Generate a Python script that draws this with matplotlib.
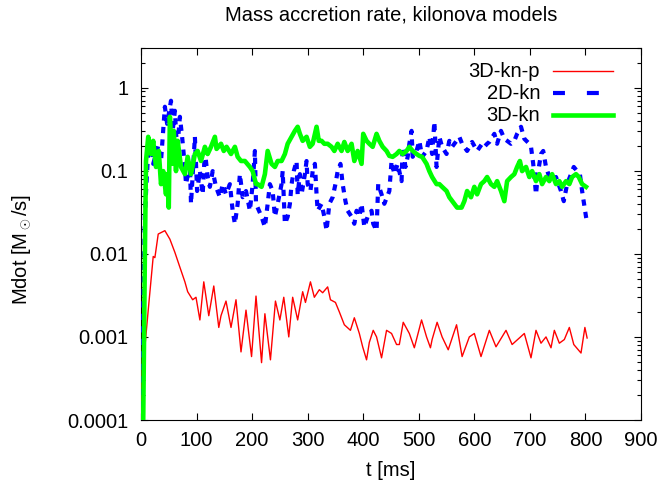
import matplotlib
matplotlib.use("Agg")
import matplotlib.pyplot as plt
from matplotlib.ticker import FixedLocator, LogLocator, NullFormatter, FuncFormatter

plt.rcParams['font.family'] = ['Liberation Sans', 'DejaVu Sans']
plt.rcParams['mathtext.fontset'] = 'custom'
plt.rcParams['mathtext.rm'] = 'Liberation Sans'
plt.rcParams['mathtext.it'] = 'Liberation Sans:italic'
plt.rcParams['lines.scale_dashes'] = False

# --- data ---
labels = ["3D-kn-p", "2D-kn", "3D-kn"]

t_kn_p = [0, 2, 4, 7, 13, 22, 25, 31, 43, 52, 61, 70, 79, 84, 93, 99, 106, 113,
          122, 131, 140, 144, 153, 162, 171, 180, 189, 199, 207, 217, 223, 233,
          242, 250, 257, 266, 273, 282, 291, 296, 305, 312, 321, 327, 336, 341,
          350, 357, 366, 377, 384, 393, 399, 406, 411, 418, 424, 433, 442, 451,
          460, 465, 472, 483, 492, 505, 514, 521, 524, 533, 542, 553, 568, 578,
          591, 600, 612, 627, 639, 657, 668, 681, 690, 702, 711, 720, 729, 738,
          744, 753, 762, 771, 779, 792, 799, 803]
mdot_kn_p = [5e-5, 3.3e-4, 1.4e-3, 7.6e-4, 2.1e-3, 9.3e-3, 9.0e-3, 0.0173, 0.019,
             0.015, 0.0104, 0.0069, 0.0046, 0.0035, 0.0028, 0.0030, 0.0016, 0.0046,
             0.0018, 0.0041, 0.0013, 0.0018, 0.0027, 0.0013, 0.0028, 6.6e-4, 0.0021,
             5.8e-4, 0.0031, 4.9e-4, 0.0019, 5.3e-4, 0.0027, 0.0016, 0.0030, 0.0010,
             0.0030, 0.0016, 0.0035, 0.0026, 0.0046, 0.0030, 0.0037, 0.0034, 0.0040,
             0.0028, 0.0026, 0.0020, 0.0014, 0.0012, 0.0017, 0.0011, 7.6e-4, 5.3e-4,
             8.6e-4, 0.0012, 0.0010, 5.6e-4, 0.0012, 0.0011, 8.1e-4, 8.1e-4, 0.0015,
             0.0011, 7.4e-4, 0.0016, 0.0010, 7.4e-4, 9.3e-4, 0.0015, 0.0010, 7.0e-4,
             0.0014, 5.8e-4, 0.0010, 0.0011, 5.8e-4, 0.0012, 7.6e-4, 0.0012, 8.1e-4,
             9.7e-4, 0.0011, 5.6e-4, 0.0012, 8.4e-4, 0.0010, 7.4e-4, 0.0012, 8.4e-4,
             9.3e-4, 0.0013, 8.1e-4, 6.4e-4, 0.0013, 9.7e-4]

t_2d = [0, 4, 7, 13, 18, 22, 31, 36, 43, 47, 54, 57, 61, 65, 70, 74, 79, 81, 88,
        90, 97, 101, 106, 111, 115, 120, 124, 129, 135, 142, 147, 153, 160, 165,
        169, 174, 178, 183, 189, 196, 201, 205, 207, 210, 217, 223, 228, 232, 237,
        241, 246, 253, 255, 259, 264, 268, 271, 275, 280, 282, 286, 289, 295, 298,
        300, 305, 309, 313, 316, 318, 325, 330, 334, 339, 345, 350, 354, 359, 363,
        368, 372, 379, 384, 388, 393, 397, 402, 408, 415, 418, 424, 427, 433, 438,
        447, 451, 456, 462, 469, 471, 476, 480, 483, 487, 489, 496, 501, 506, 514,
        519, 524, 528, 532, 537, 542, 550, 555, 560, 568, 573, 578, 587, 596, 605,
        614, 618, 623, 627, 636, 641, 648, 654, 659, 666, 672, 677, 684, 690, 699,
        702, 706, 711, 715, 720, 724, 729, 735, 740, 747, 756, 761, 767, 774, 779,
        785, 790, 794, 801, 803]
mdot_2d = [5e-5, 0.002, 0.03, 0.173, 0.222, 0.121, 0.199, 0.131, 0.589, 0.367,
           0.696, 0.302, 0.527, 0.173, 0.446, 0.256, 0.111, 0.069, 0.121, 0.040,
           0.256, 0.057, 0.099, 0.052, 0.173, 0.084, 0.064, 0.099, 0.064, 0.048,
           0.069, 0.052, 0.069, 0.033, 0.023, 0.040, 0.091, 0.048, 0.057, 0.033,
           0.069, 0.173, 0.040, 0.036, 0.028, 0.021, 0.040, 0.069, 0.057, 0.028,
           0.040, 0.069, 0.099, 0.023, 0.028, 0.040, 0.069, 0.099, 0.131, 0.052,
           0.091, 0.052, 0.091, 0.131, 0.069, 0.057, 0.099, 0.121, 0.052, 0.033,
           0.040, 0.028, 0.019, 0.040, 0.048, 0.069, 0.099, 0.121, 0.069, 0.043,
           0.033, 0.028, 0.023, 0.033, 0.028, 0.040, 0.021, 0.028, 0.033, 0.023,
           0.019, 0.069, 0.052, 0.040, 0.057, 0.131, 0.091, 0.121, 0.075, 0.194,
           0.111, 0.147, 0.211, 0.302, 0.147, 0.173, 0.229, 0.147, 0.173, 0.256,
           0.159, 0.388, 0.111, 0.256, 0.194, 0.159, 0.229, 0.194, 0.229, 0.256,
           0.211, 0.173, 0.222, 0.173, 0.211, 0.194, 0.211, 0.222, 0.278, 0.211,
           0.302, 0.242, 0.229, 0.211, 0.229, 0.278, 0.338, 0.242, 0.211, 0.194,
           0.121, 0.052, 0.099, 0.159, 0.173, 0.111, 0.084, 0.075, 0.084, 0.057,
           0.043, 0.069, 0.091, 0.111, 0.099, 0.091, 0.057, 0.028, 0.024]

t_3d = [0, 4, 7, 9, 13, 18, 22, 27, 32, 36, 40, 45, 47, 50, 52, 56, 59, 63, 66,
        72, 79, 84, 90, 97, 102, 108, 115, 120, 126, 133, 136, 144, 149, 154, 162,
        169, 174, 180, 187, 196, 201, 207, 210, 217, 223, 228, 235, 241, 246, 253,
        259, 264, 271, 277, 282, 286, 291, 298, 304, 309, 316, 320, 325, 330, 336,
        343, 348, 354, 361, 366, 372, 379, 384, 390, 397, 400, 406, 411, 417, 424,
        429, 435, 442, 447, 453, 460, 465, 471, 478, 483, 489, 496, 501, 506, 514,
        519, 524, 532, 537, 542, 550, 555, 564, 569, 577, 582, 587, 594, 600, 605,
        612, 618, 623, 630, 636, 641, 648, 654, 659, 666, 672, 677, 682, 686, 693,
        699, 704, 711, 717, 722, 729, 735, 740, 747, 753, 758, 765, 771, 776, 783,
        788, 794, 801]
mdot_3d = [5e-5, 1e-4, 0.01, 0.131, 0.256, 0.159, 0.229, 0.111, 0.173, 0.069,
           0.099, 0.052, 0.091, 0.036, 0.446, 0.121, 0.302, 0.099, 0.229, 0.111,
           0.091, 0.147, 0.091, 0.159, 0.173, 0.131, 0.194, 0.159, 0.194, 0.256,
           0.183, 0.211, 0.173, 0.194, 0.159, 0.194, 0.147, 0.131, 0.131, 0.111,
           0.099, 0.069, 0.069, 0.064, 0.091, 0.173, 0.121, 0.111, 0.131, 0.131,
           0.159, 0.211, 0.256, 0.302, 0.338, 0.278, 0.229, 0.256, 0.194, 0.211,
           0.338, 0.229, 0.229, 0.211, 0.211, 0.194, 0.173, 0.211, 0.173, 0.222,
           0.173, 0.211, 0.131, 0.173, 0.121, 0.278, 0.229, 0.211, 0.194, 0.278,
           0.229, 0.194, 0.173, 0.151, 0.147, 0.159, 0.173, 0.159, 0.173, 0.194,
           0.173, 0.159, 0.151, 0.147, 0.121, 0.099, 0.084, 0.069, 0.069, 0.064,
           0.057, 0.048, 0.040, 0.036, 0.036, 0.043, 0.057, 0.048, 0.064, 0.052,
           0.069, 0.075, 0.084, 0.069, 0.064, 0.075, 0.057, 0.043, 0.075, 0.084,
           0.091, 0.111, 0.131, 0.099, 0.111, 0.084, 0.099, 0.075, 0.091, 0.069,
           0.084, 0.075, 0.091, 0.069, 0.075, 0.064, 0.075, 0.069, 0.084, 0.091,
           0.084, 0.069, 0.064]

fig = plt.figure(figsize=(6.62, 4.93), dpi=100)
ax = fig.add_axes([141 / 662, 73 / 493, 500 / 662, 372 / 493])

ax.plot(t_kn_p, mdot_kn_p, color='#ff0000', lw=1.0, zorder=3)
ax.plot(t_2d, mdot_2d, color='#0000ff', lw=3, dashes=(4.5, 4.5), zorder=4)
ax.plot(t_3d, mdot_3d, color='#00ff00', lw=3.3, zorder=5)

ax.set_yscale('log')
ax.set_xlim(0, 900)
ax.set_ylim(1e-4, 3)

ax.xaxis.set_major_locator(FixedLocator(range(0, 901, 100)))
ax.yaxis.set_major_locator(FixedLocator([1e-4, 1e-3, 1e-2, 1e-1, 1]))
ax.yaxis.set_major_formatter(FuncFormatter(lambda v, p: '%g' % v))
ax.yaxis.set_minor_locator(LogLocator(base=10, subs=range(2, 10)))
ax.yaxis.set_minor_formatter(NullFormatter())

ax.tick_params(which='both', direction='in', top=True, right=True,
               labelsize=14.5, color='black', width=0.8)
ax.tick_params(which='major', length=5)
ax.tick_params(which='minor', length=3)
ax.tick_params(axis='x', pad=8)
ax.tick_params(axis='y', pad=9)
for s in ax.spines.values():
    s.set_linewidth(0.8)

# gnuplot-like key: text right-aligned, sample to the right
styles = [dict(color='#ff0000', lw=1.0),
          dict(color='#0000ff', lw=3, dashes=(8.6, 15.8)),
          dict(color='#00ff00', lw=3.3)]
rows = [0.938, 0.879, 0.819]
for lab, st, yy in zip(labels, styles, rows):
    ax.text(0.798, yy, lab, transform=ax.transAxes, ha='right', va='center',
            fontsize=14.5)
    ax.plot([0.824, 0.944], [yy, yy], transform=ax.transAxes, clip_on=False, **st)

fig.text(391 / 662, 1 - 15 / 493, "Mass accretion rate, kilonova models",
         ha='center', va='center', fontsize=14.5)
fig.text(391 / 662, 1 - 470 / 493, "t [ms]", ha='center', va='center',
         fontsize=14.5)
fig.text(22 / 662, 1 - 250 / 493, r"Mdot [M$_\odot$/s]", ha='center',
         va='center', rotation=90, fontsize=14.5)

fig.savefig("out.png", dpi=100)
